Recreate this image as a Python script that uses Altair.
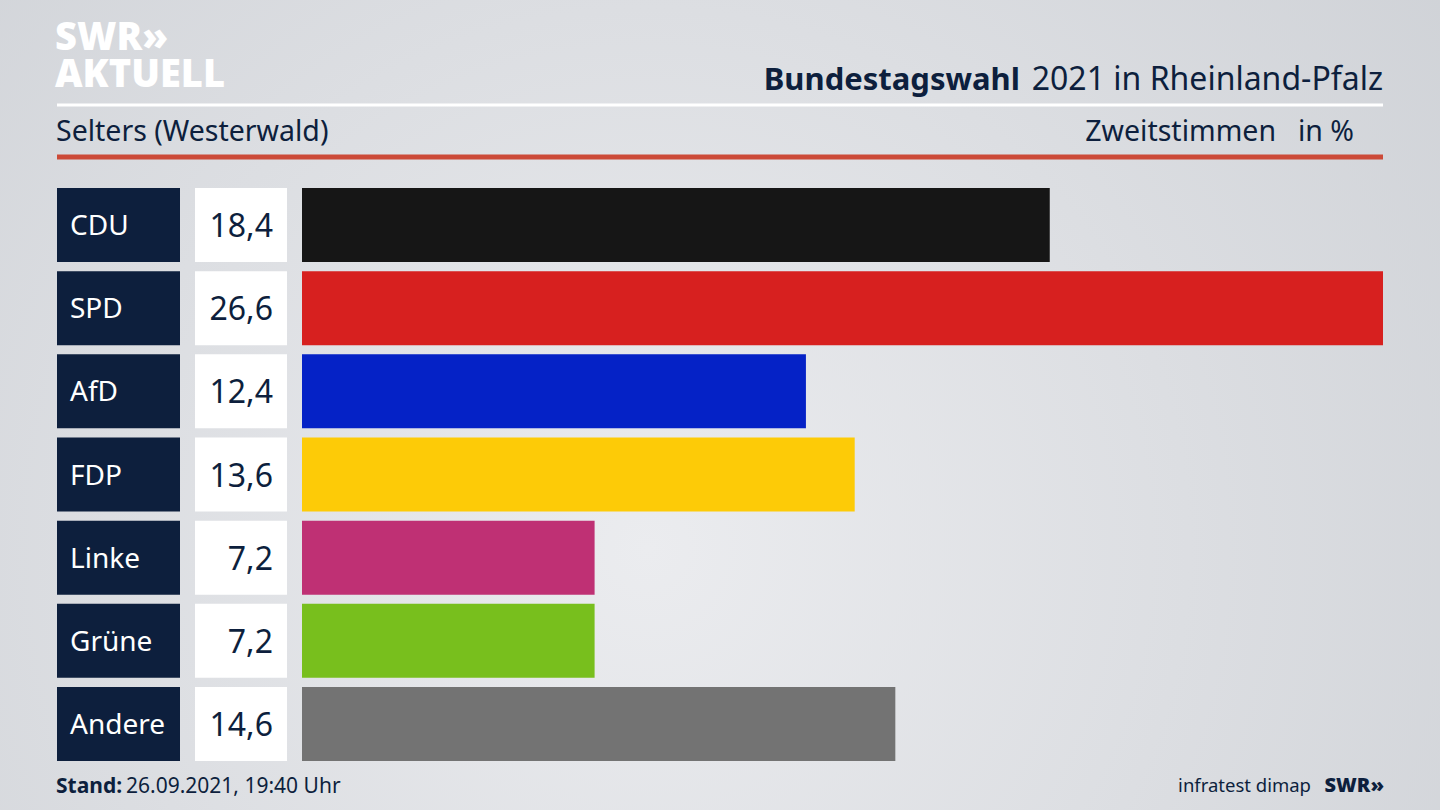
import altair as alt
import pandas as pd

parties = ["CDU", "SPD", "AfD", "FDP", "Linke", "Grüne", "Andere"]
values = [18.4, 26.6, 12.4, 13.6, 7.2, 7.2, 14.6]
colors = ["#161616", "#d7201f", "#0522c6", "#fdcb07", "#bf3074", "#78bf1d", "#737373"]

df = pd.DataFrame({
    "party": parties,
    "value": values,
    "label": [f"{v:.1f}".replace(".", ",") for v in values],
})

W, H = 1440, 810
FONT = "Noto Sans"
NAVY = "#0d1f3d"

y_enc = alt.Y("party:N", sort=parties, axis=None,
              scale=alt.Scale(range=[188, 761], paddingInner=0.11, paddingOuter=0))

base = alt.Chart(df)

bg = alt.Chart(pd.DataFrame({"a": [0]})).mark_rect(
    fill=alt.Gradient(gradient="radial", x1=0.45, y1=0.6, r1=0, x2=0.45, y2=0.6, r2=0.75,
                      stops=[alt.GradientStop(offset=0, color="#ebecef"),
                             alt.GradientStop(offset=1, color="#cdd0d5")])
).encode(x=alt.value(0), x2=alt.value(W), y=alt.value(0), y2=alt.value(H))

bars = base.mark_bar().encode(
    y=y_enc,
    x=alt.X("value:Q", axis=None, scale=alt.Scale(zero=True, nice=False, range=[302, 1383])),
    color=alt.Color("party:N", scale=alt.Scale(domain=parties, range=colors), legend=None),
)

label_box = base.mark_rect(color=NAVY).encode(y=y_enc, x=alt.value(57), x2=alt.value(180))
value_box = base.mark_rect(color="white").encode(y=y_enc, x=alt.value(195), x2=alt.value(287))

label_txt = base.mark_text(align="left", baseline="middle", font=FONT, fontSize=28, dy=2,
                           color="white").encode(y=y_enc, x=alt.value(70), text="party:N")
value_txt = base.mark_text(align="right", baseline="middle", font=FONT, fontSize=32, dy=2,
                           color=NAVY).encode(y=y_enc, x=alt.value(273), text="label:N")

one = alt.Chart(pd.DataFrame({"a": [0]}))

def txt(t, x, y, size, weight="normal", align="left", color=NAVY, font=FONT, **kw):
    return one.mark_text(text=t, align=align, baseline="alphabetic", fontSize=size,
                         fontWeight=weight, color=color, font=font, **kw).encode(
        x=alt.value(x), y=alt.value(y))

def hline(x1, x2, y, color, width):
    return one.mark_rule(color=color, strokeWidth=width).encode(
        x=alt.value(x1), x2=alt.value(x2), y=alt.value(y))

layers = [
    bg,
    txt(["SWR»", "AKTUELL"], 55, 50, 38, 900, color="white", font="Open Sans", lineHeight=37),
    txt("Bundestagswahl", 1020, 90, 31, "bold", align="right"),
    txt("2021 in Rheinland-Pfalz", 1383, 90, 32, "normal", align="right"),
    hline(57, 1383, 105, "white", 3),
    txt("Selters (Westerwald)", 56, 141, 28.5),
    txt("Zweitstimmen", 1276, 141, 28.5, align="right"),
    txt("in %", 1354, 141, 28.5, align="right"),
    hline(57, 1383, 157, "#cc4a38", 5),
    bars, label_box, value_box, label_txt, value_txt,
    txt("Stand:", 56, 793, 21, "bold"),
    txt("26.09.2021, 19:40 Uhr", 126, 793, 21),
    txt("infratest dimap", 1311, 792, 18.5, align="right"),
    txt("SWR»", 1384, 792, 20, 900, align="right", font="Open Sans"),
]

chart = alt.layer(*layers).properties(
    width=W, height=H, padding=0, autosize=alt.AutoSizeParams(type="none"),
    background="#dcdee2",
).configure_view(stroke=None)

chart.save("out.html", embed_options={"renderer": "svg", "actions": False})
